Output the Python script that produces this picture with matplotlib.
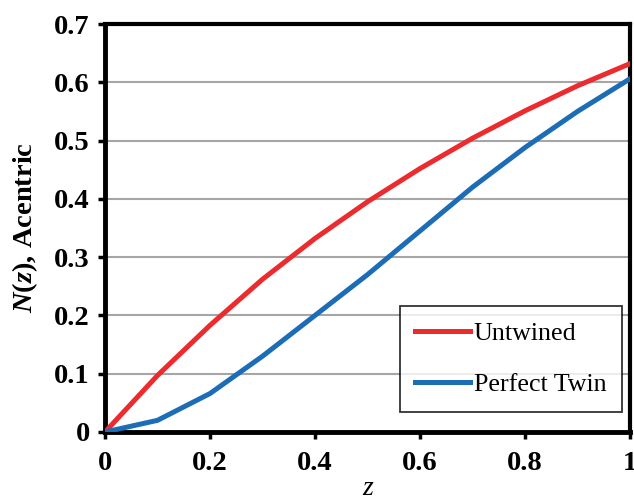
import matplotlib
matplotlib.use("Agg")
import matplotlib.pyplot as plt

# N(z) cumulative intensity distribution, acentric reflections
z = [0.0, 0.1, 0.2, 0.3, 0.4, 0.5, 0.6, 0.7, 0.8, 0.9, 1.0]
untwined = [0.0, 0.097, 0.183, 0.262, 0.332, 0.395, 0.452, 0.504, 0.551, 0.594, 0.632]
perfect_twin = [0.0, 0.020, 0.066, 0.130, 0.200, 0.270, 0.345, 0.420, 0.488, 0.550, 0.606]

x_ticks = [0, 0.2, 0.4, 0.6, 0.8, 1.0]
x_ticklabels = ["0", "0.2", "0.4", "0.6", "0.8", "1"]
y_ticks = [0, 0.1, 0.2, 0.3, 0.4, 0.5, 0.6, 0.7]
y_ticklabels = ["0", "0.1", "0.2", "0.3", "0.4", "0.5", "0.6", "0.7"]

plt.rcParams["font.family"] = ["Liberation Serif", "DejaVu Serif"]
plt.rcParams["mathtext.fontset"] = "custom"
plt.rcParams["mathtext.it"] = "Liberation Serif:italic:bold"
plt.rcParams["mathtext.rm"] = "Liberation Serif:bold"

fig = plt.figure(figsize=(6.34, 4.97), dpi=100)
ax = fig.add_axes([0.1656, 0.1308, 0.8281, 0.8209])

ax.plot(z, untwined, color="#ec2b2f", lw=3.6, label="Untwined", zorder=3)
ax.plot(z, perfect_twin, color="#1c6db5", lw=3.6, label="Perfect Twin", zorder=3)

ax.set_xlim(0, 1)
ax.set_ylim(0, 0.7)
ax.set_xticks(x_ticks)
ax.set_xticklabels(x_ticklabels)
ax.set_yticks(y_ticks)
ax.set_yticklabels(y_ticklabels)
ax.grid(axis="y", color="#a6a6a6", lw=1.5, zorder=0)
ax.set_axisbelow(True)

for lbl in ax.get_xticklabels() + ax.get_yticklabels():
    lbl.set_fontweight("bold")
    lbl.set_fontsize(20.5)
ax.tick_params(axis="both", direction="out", length=5, width=2.5, color="black")
ax.tick_params(axis="x", pad=9)
ax.tick_params(axis="y", pad=6)

ax.spines["left"].set_linewidth(3.5)
ax.spines["bottom"].set_linewidth(3.5)
ax.spines["top"].set_linewidth(3)
ax.spines["right"].set_linewidth(3)

ax.set_ylabel(r"$\mathit{N}$($\mathit{z}$), Acentric", fontsize=20.5, fontweight="bold", labelpad=10)
ax.set_xlabel("z", fontsize=20, fontstyle="italic", labelpad=0)

leg = ax.legend(loc="lower right", bbox_to_anchor=(0.985, 0.049), borderaxespad=0,
                fontsize=18.7, frameon=True, fancybox=False, edgecolor="black",
                handlelength=2.1, handletextpad=0.15, labelspacing=1.1,
                borderpad=0.6)
leg.get_frame().set_linewidth(1.3)

fig.savefig("out.png", dpi=100)
